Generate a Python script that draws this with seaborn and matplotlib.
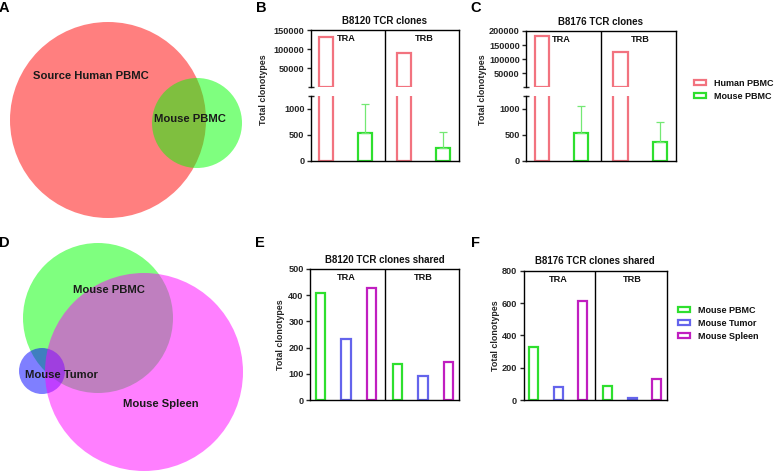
import numpy as np
import pandas as pd
import matplotlib
matplotlib.use("Agg")
import matplotlib.pyplot as plt
import seaborn as sns
from matplotlib.patches import Circle, Patch

# ---- data ----
chains = ["TRA", "TRB"]

clone_samples = ["Human PBMC", "Mouse PBMC"]
b8120_human = [132500, 89000]
b8120_mouse = [530, 245]
b8120_mouse_sd = [560, 315]
b8176_human = [183000, 124000]
b8176_mouse = [542, 367]
b8176_mouse_sd = [516, 387]

shared_samples = ["Mouse PBMC", "Mouse Tumor", "Mouse Spleen"]
b8120_shared = {"TRA": [407, 234, 429], "TRB": [136, 93, 146]}
b8176_shared = {"TRA": [330, 78, 614], "TRB": [85, 10, 128]}

# venn sets (pixel layout of the original panels)
venn_a_labels = ["Source Human PBMC", "Mouse PBMC"]
venn_a_colors = ["#FF0000", "#00FF00"]
venn_a_centers = [(108, 120), (197, 123)]
venn_a_radii = [98, 45]
venn_a_text = [(91, 76), (190, 119)]

venn_d_labels = ["Mouse PBMC", "Mouse Tumor", "Mouse Spleen"]
venn_d_colors = ["#00FF00", "#0000FF", "#FF00FF"]
venn_d_centers = [(98, 318), (42, 371), (144, 372)]
venn_d_radii = [75, 23, 99]
venn_d_text = [(109, 290), (61, 375), (161, 404)]

palette = {"Human PBMC": "#F2737F", "Mouse PBMC": "#2EDF2E",
           "Mouse Tumor": "#6464EC", "Mouse Spleen": "#C01EC0"}
err_color = "#74E874"

W, H = 775, 474
BREAK = 1250

sns.set_theme(style="ticks")
plt.rcParams.update({
    "font.family": ["Liberation Sans", "DejaVu Sans"],
    "font.weight": "bold",
    "axes.labelweight": "bold",
    "axes.titleweight": "bold",
    "axes.linewidth": 1.0,
    "axes.edgecolor": "black",
    "text.color": "#111111",
})

fig = plt.figure(figsize=(W / 100, H / 100), dpi=100)


def box(l, t, r, b):
    return [l / W, 1 - b / H, (r - l) / W, (b - t) / H]


def clone_frame(values_by_sample, samples):
    rows = []
    for i, ch in enumerate(chains):
        for s in samples:
            rows.append((f"{ch} {s}", ch, s, values_by_sample[s][i]))
    return pd.DataFrame(rows, columns=["group", "chain", "sample", "value"])


def draw_bars(ax, frame, samples):
    sns.barplot(data=frame, x="group", y="value", hue="sample",
                order=list(frame["group"]), hue_order=samples,
                palette=palette, dodge=False, fill=False, width=0.36,
                linewidth=1.6, legend=False, errorbar=None, ax=ax)
    ax.set_xlim(-0.4, len(frame) - 0.6)
    ax.set_xticks([])
    ax.set_xlabel("")
    ax.set_ylabel("")
    ax.patch.set_visible(False)
    ax.tick_params(axis="y", length=3, width=1, pad=1.5, labelsize=6.6)


def chain_labels(ax, frame):
    order = list(frame["group"])
    for ch in chains:
        x = np.mean([order.index(g) for g in frame.loc[frame.chain == ch, "group"]])
        ax.annotate(ch, xy=(x, 1), xycoords=("data", "axes fraction"),
                    xytext=(0, -3), textcoords="offset points",
                    ha="center", va="top", fontsize=6.6, fontweight="bold")


def broken_panel(l, r, t_up, b_up, t_low, b_low, frame, samples, sd,
                 title, top, top_ticks, label_x):
    n = len(frame)
    bg = fig.add_axes(box(l, t_up, r, b_low))
    bg.set_xlim(-0.4, n - 0.6)
    bg.set_ylim(0, 1)
    bg.set_xticks([])
    bg.set_yticks([])
    for s in ["left", "top", "bottom"]:
        bg.spines[s].set_visible(False)
    bg.patch.set_visible(False)
    bg.axvline((n - 1) / 2, color="black", lw=1)

    up = fig.add_axes(box(l, t_up, r, b_up))
    low = fig.add_axes(box(l, t_low, r, b_low))
    for ax in (up, low):
        draw_bars(ax, frame, samples)
        ax.spines["right"].set_visible(False)
    up.spines["bottom"].set_visible(False)
    low.spines["top"].set_visible(False)
    # bars that end below the break have nothing to show in the upper segment
    for p in up.patches:
        if p.get_height() < BREAK:
            p.set_visible(False)

    up.set_ylim(BREAK, top)
    up.set_yticks(top_ticks)
    up.set_yticklabels([str(v) for v in top_ticks])
    up.set_yticks([BREAK], minor=True)
    low.set_ylim(0, BREAK)
    low.set_yticks([0, 500, 1000])
    low.set_yticklabels(["0", "500", "1000"])
    low.set_yticks([BREAK], minor=True)
    for ax in (up, low):
        ax.tick_params(axis="y", which="minor", direction="inout", length=5, width=1)
        ax.set_yticklabels([], minor=True)

    order = list(frame["group"])
    mouse = frame[frame["sample"] == samples[1]]
    pos = [order.index(g) for g in mouse["group"]]
    low.errorbar(pos, mouse["value"], yerr=[np.zeros(len(sd)), sd], fmt="none",
                 ecolor=err_color, elinewidth=0.9, capsize=3, capthick=0.9)
    low.set_ylim(0, BREAK)

    up.set_title(title, fontsize=7, pad=4.5)
    chain_labels(up, frame)
    low.set_ylabel("Total clonotypes", fontsize=6.4)
    low.yaxis.set_label_coords(label_x, 1.1)


def shared_panel(l, t, r, b, frame, title, ymax, yticks, label_x):
    ax = fig.add_axes(box(l, t, r, b))
    draw_bars(ax, frame, shared_samples)
    ax.axvline((len(frame) - 1) / 2, color="black", lw=1)
    ax.set_ylim(0, ymax)
    ax.set_yticks(yticks)
    ax.set_yticklabels([str(v) for v in yticks])
    ax.set_title(title, fontsize=7, pad=4.5)
    chain_labels(ax, frame)
    ax.set_ylabel("Total clonotypes", fontsize=6.4)
    ax.yaxis.set_label_coords(label_x, 0.5)


# ---- venn panels ----
vax = fig.add_axes([0, 0, 255 / W, 1])
vax.set_xlim(0, 255)
vax.set_ylim(H, 0)
vax.axis("off")
for centers, radii, colors, labels, text_pos in [
        (venn_a_centers, venn_a_radii, venn_a_colors, venn_a_labels, venn_a_text),
        (venn_d_centers, venn_d_radii, venn_d_colors, venn_d_labels, venn_d_text)]:
    for c, rad, col in zip(centers, radii, colors):
        vax.add_patch(Circle(c, rad, facecolor=col, alpha=0.5, edgecolor="none"))
    for lab, (tx, ty) in zip(labels, text_pos):
        vax.text(tx, ty, lab, ha="center", va="center", fontsize=8.1,
                 fontweight="bold", color="#1a1a1a")

# ---- clone count panels ----
b8120 = clone_frame({"Human PBMC": b8120_human, "Mouse PBMC": b8120_mouse}, clone_samples)
b8176 = clone_frame({"Human PBMC": b8176_human, "Mouse PBMC": b8176_mouse}, clone_samples)
broken_panel(310.7, 459, 30, 86.7, 96, 160.7, b8120, clone_samples, b8120_mouse_sd,
             "B8120 TCR clones", 150000, [50000, 100000, 150000], -0.286)
broken_panel(526, 675.7, 31, 86.7, 96, 160.7, b8176, clone_samples, b8176_mouse_sd,
             "B8176 TCR clones", 200000, [50000, 100000, 150000, 200000], -0.26)

# ---- shared clone panels ----
def shared_frame(values):
    return clone_frame({s: [values[ch][i] for ch in chains]
                        for i, s in enumerate(shared_samples)}, shared_samples)


shared_panel(310, 269, 459, 400, shared_frame(b8120_shared),
             "B8120 TCR clones shared", 500, [0, 100, 200, 300, 400, 500], -0.168)
shared_panel(523.5, 270.7, 666.7, 400, shared_frame(b8176_shared),
             "B8176 TCR clones shared", 800, [0, 200, 400, 600, 800], -0.166)

# ---- legends ----
def add_legend(samples, x, y):
    handles = [Patch(facecolor="none", edgecolor=palette[s], linewidth=1.6) for s in samples]
    fig.legend(handles, samples, loc="upper left", bbox_to_anchor=(x / W, 1 - y / H),
               frameon=False, fontsize=6.5, handlelength=1.35, handleheight=0.5,
               handletextpad=0.9, labelspacing=0.45, borderpad=0, borderaxespad=0)


add_legend(clone_samples, 694, 79)
add_legend(shared_samples, 678, 306)

# ---- panel letters ----
for letter, x, y in [("A", 4, 8), ("B", 261, 8), ("C", 476, 8),
                     ("D", 4, 243), ("E", 260, 243), ("F", 476, 243)]:
    fig.text(x / W, 1 - y / H, letter, ha="center", va="center",
             fontsize=10.5, fontweight="bold", color="black")

fig.savefig("out.png", dpi=100)
